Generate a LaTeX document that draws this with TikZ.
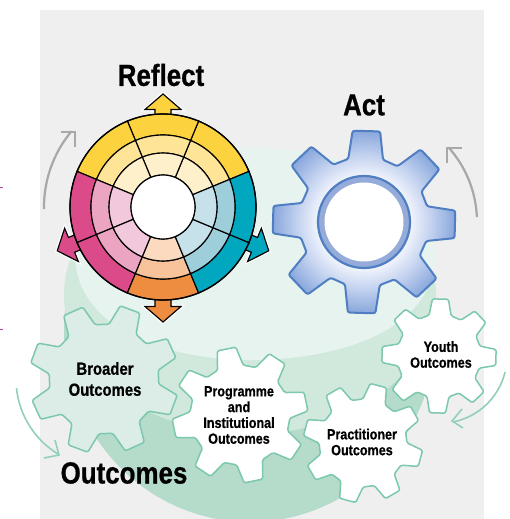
\documentclass[tikz,border=0pt]{standalone}
\usepackage{fontspec}
\newfontfamily\condfont[FakeStretch=0.85,FakeBold=0.7]{Liberation Sans Bold}
\definecolor{panel}{HTML}{EFEFEF}
\definecolor{bglight}{HTML}{E6F3EF}
\definecolor{bgmid}{HTML}{D1E8DD}
\definecolor{bgdark}{HTML}{B5DBCB}
\definecolor{gearline}{HTML}{7CC8AC}
\definecolor{gearfill}{HTML}{DCEDE7}
\definecolor{arcgreen}{HTML}{93D0BA}
\definecolor{arcgray}{HTML}{A8A8A8}
\definecolor{actline}{HTML}{4F7FC2}
\definecolor{actring}{HTML}{95ABD9}
\definecolor{tick}{HTML}{B5449B}
\definecolor{sA}{HTML}{EEF2FB}\definecolor{sB}{HTML}{C6D4F0}\definecolor{sC}{HTML}{88A7DC}
\definecolor{yA}{HTML}{FCD33E}\definecolor{yB}{HTML}{FDE497}\definecolor{yC}{HTML}{FEF0CA}
\definecolor{pA}{HTML}{DB4B8A}\definecolor{pB}{HTML}{EBA4C1}\definecolor{pC}{HTML}{F2C8DC}
\definecolor{oA}{HTML}{EE8C3F}\definecolor{oB}{HTML}{F8C39A}\definecolor{oC}{HTML}{FBDAC0}
\definecolor{bA}{HTML}{00A7BF}\definecolor{bB}{HTML}{9FCEDB}\definecolor{bC}{HTML}{C7E1EB}
\pgfdeclareradialshading{actshade}{\pgfpoint{0cm}{0cm}}{%
  color(0bp)=(white); color(13bp)=(sA); color(18bp)=(sB); color(25bp)=(sC); color(50bp)=(sC)}
\tikzset{
  title/.style={font=\condfont\fontsize{30.5}{32}\selectfont,align=center,inner sep=0pt},
  biglabel/.style={font=\condfont\fontsize{17.5}{21}\selectfont,align=center,inner sep=0pt},
  smalllabel/.style={font=\condfont\fontsize{14.8}{15.8}\selectfont,align=center,inner sep=0pt},
  greengear/.style={draw=gearline,line width=1.5pt,rounded corners=1.5pt,line join=round},
  wheel/.style={draw=black,line width=1.15pt},
  grayarc/.style={draw=arcgray,line width=2.2pt,miter limit=10},
  greenarc/.style={draw=arcgreen,line width=1.6pt,miter limit=10},
}
% #1 root radius, #2 tip radius, #3 first tooth angle, #4 tip half angle, #5 base half angle
\newcommand\gearpath[5]{%
  (#3-#5:#1) -- (#3-#4:#2) -- (#3+#4:#2) -- (#3+#5:#1)
  foreach \k in {1,...,7} { -- (#3+45*\k-#5:#1) -- (#3+45*\k-#4:#2) -- (#3+45*\k+#4:#2) -- (#3+45*\k+#5:#1) } -- cycle}
\newcommand\sect[5]{\filldraw[wheel,fill=#5] (#1:#3) arc (#1:#2:#3) -- (#2:#4) arc (#2:#1:#4) -- cycle;}
\newcommand\sectors[5]{% start, end, c1,c2,c3
  \sect{#1}{#2}{72}{93}{#3}\sect{#1}{#2}{54}{72}{#4}\sect{#1}{#2}{32}{54}{#5}}
\newcommand\wheelarrow[3]{% angle, colour, extra distance
  \begin{scope}[rotate=#1,xshift=#3]
  \draw[white,line width=3.5pt,line join=miter] (95,-11)--(97.5,-11)--(97.5,-18)--(113,0)--(97.5,18)--(97.5,11)--(95,11);
  \filldraw[wheel,fill=#2,line join=miter] (85,-8)--(97.5,-8)--(97.5,-18)--(113,0)--(97.5,18)--(97.5,8)--(85,8)--cycle;
  \end{scope}}
\begin{document}
\begin{tikzpicture}[x=1pt,y=1pt]
\useasboundingbox (0,-519) rectangle (510,0);
\fill[white] (0,-519) rectangle (510,0);
\fill[panel] (40,-519) rectangle (484,-10);
\draw[tick,line width=0.8pt] (0,-187) -- (3,-187) (0,-329) -- (3,-329);
\begin{scope}
  \clip (40,-519) rectangle (484,-10);
  \begin{scope}
    \clip (40,-519) rectangle (484,-300);
    \fill[bgdark] (250,-330) ellipse [x radius=186,y radius=192];
  \end{scope}
  \begin{scope}
    \clip (40,-519) rectangle (484,-200);
    \fill[bgmid] (250,-295) ellipse [x radius=186,y radius=139];
  \end{scope}
  \fill[bglight] (75,-254) arc [start angle=180,end angle=0,x radius=180,y radius=106]
    .. controls (435,-330) and (340,-360) .. (250,-360)
    .. controls (170,-360) and (75,-330) .. (75,-254) -- cycle;
\end{scope}
% gray arcs
\coordinate (wheelC) at (163,-207);
\coordinate (actC) at (364,-222);
\coordinate (broadC) at (104,-379);
\coordinate (youthC) at (439,-356);
\draw[grayarc] (wheelC) ++(181:119) arc (181:140:118);
\draw[grayarc] (61,-132) -- (75,-132) -- (75,-147);
\draw[grayarc] (actC) ++(2.5:113) arc (2.5:41.7:112);
\draw[grayarc] (462,-148) -- (447,-148) -- (447,-163);
% wheel
\begin{scope}[shift={(wheelC)}]
  \wheelarrow{90}{yA}{0pt}\wheelarrow{202.5}{pA}{1.5pt}\wheelarrow{270}{oA}{2pt}\wheelarrow{337.5}{bA}{1.5pt}
  \sectors{22.5}{67.5}{yA}{yB}{yC}\sectors{67.5}{112.5}{yA}{yB}{yC}\sectors{112.5}{157.5}{yA}{yB}{yC}
  \sectors{157.5}{202.5}{pA}{pB}{pC}\sectors{202.5}{247.5}{pA}{pB}{pC}
  \sectors{247.5}{292.5}{oA}{oB}{oC}
  \sectors{292.5}{337.5}{bA}{bB}{bC}\sectors{337.5}{382.5}{bA}{bB}{bC}
  \draw[black,line width=1.3pt] (0,0) circle (93);
  \filldraw[wheel,fill=white,line width=1.2pt] (0,0) circle (32);
\end{scope}
% act gear
\begin{scope}[shift={(actC)}]
  \shade[shading=actshade] \gearpath{65}{92}{88.5}{8.6}{15.5};
  \draw[actline,line width=2pt,rounded corners=2.2pt,line join=round] \gearpath{65}{92}{88.5}{8.6}{15.5};
  \filldraw[draw=actline,fill=actring,line width=2.2pt] (0,0) circle (46);
  \fill[white] (0,0) circle (39.5);
\end{scope}
% green gears
\begin{scope}[shift={(broadC)}]
  \filldraw[greengear,fill=gearfill] \gearpath{55}{75}{24.5}{8}{15.2};
\end{scope}
\begin{scope}[shift={(240,-415)}]
  \filldraw[greengear,fill=white] \gearpath{50}{68}{11.5}{8}{15.2};
\end{scope}
\begin{scope}[shift={(363,-443)}]
  \filldraw[greengear,fill=white] \gearpath{44}{60}{30}{8}{15.2};
\end{scope}
\begin{scope}[shift={(youthC)}]
  \filldraw[greengear,fill=white] \gearpath{42}{57.5}{-1.5}{8}{15.2};
\end{scope}
% green arcs
\draw[greenarc] (broadC) ++(186:88) arc (186:239:88);
\draw[greenarc] (44,-458) -- (59,-455) -- (55,-440);
\draw[greenarc] (youthC) ++(-13.6:68) arc (-13.6:-78.7:67);
\draw[greenarc] (462,-409) -- (452,-421) -- (463,-428);
% labels
\node[title] (reflect) at (161,-75) {Reflect};
\node[title] (act) at (364,-105) {Act};
\node[title] (outcomes) at (124,-473) {Outcomes};
\node[biglabel] (broader) at (105,-379) {Broader\\Outcomes};
\node[smalllabel] (programme) at (239,-415) {Programme\\and\\Institutional\\Outcomes};
\node[smalllabel] (practitioner) at (362,-442) {Practitioner\\Outcomes};
\node[smalllabel] (youth) at (441,-354.5) {Youth\\Outcomes};
\end{tikzpicture}
\end{document}
